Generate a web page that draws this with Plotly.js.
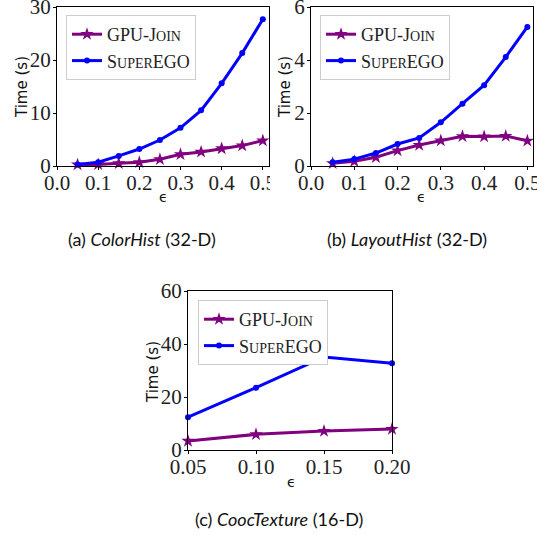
<!DOCTYPE html>
<html><head><meta charset="utf-8">
<script src="https://cdn.plot.ly/plotly-3.0.1.min.js"></script>
<style>html,body{margin:0;padding:0;background:#fff;}#chart{width:537px;height:535px;}</style>
</head><body><div id="chart"></div>
<script>
// ---- data ----
const seriesNames = ["GPU-J<span style='font-size:14px'>OIN</span>", "S<span style='font-size:14px'>UPER</span>EGO"];
const epsAB = [0.05, 0.10, 0.15, 0.20, 0.25, 0.30, 0.35, 0.40, 0.45, 0.50];
const colorHistGpu = [0.25, 0.3, 0.5, 0.7, 1.26, 2.2, 2.65, 3.3, 3.85, 4.8];
const colorHistEgo = [0.3, 0.7, 1.9, 3.2, 4.9, 7.2, 10.5, 15.6, 21.3, 27.7];
const layoutHistGpu = [0.1, 0.18, 0.33, 0.58, 0.79, 0.96, 1.12, 1.11, 1.13, 0.95];
const layoutHistEgo = [0.14, 0.26, 0.49, 0.83, 1.06, 1.65, 2.35, 3.05, 4.11, 5.25];
const epsC = [0.05, 0.10, 0.15, 0.20];
const coocGpu = [3.4, 5.9, 7.15, 7.9];
const coocEgo = [12.4, 23.5, 35.1, 32.7];
const xTicksAB = [0.0, 0.1, 0.2, 0.3, 0.4, 0.5];
const xTicksC = [0.05, 0.10, 0.15, 0.20];
const yTicksA = [0, 10, 20, 30];
const yTicksB = [0, 2, 4, 6];
const yTicksC = [0, 20, 40, 60];
const captions = ["(a) <i>ColorHist</i> (32-D)", "(b) <i>LayoutHist</i> (32-D)", "(c) <i>CoocTexture</i> (16-D)"];

// ---- styles ----
const W = 537, H = 535;
const px = v => v / W, py = v => 1 - v / H;
const purple = '#800080', blue = '#0000ff';
const serif = 'Liberation Serif';

function gpuTrace(x, y, xa, ya, lg) {
  return {x, y, xaxis: xa, yaxis: ya, legend: lg, name: seriesNames[0], type: 'scatter', mode: 'lines+markers',
    line: {color: purple, width: 3}, marker: {symbol: 'star', size: 10, color: purple}, cliponaxis: false};
}
function egoTrace(x, y, xa, ya, lg) {
  return {x, y, xaxis: xa, yaxis: ya, legend: lg, name: seriesNames[1], type: 'scatter', mode: 'lines+markers',
    line: {color: blue, width: 3}, marker: {symbol: 'circle', size: 6, color: blue}, cliponaxis: false};
}
const traces = [
  gpuTrace(epsAB, colorHistGpu, 'x', 'y', 'legend'),
  egoTrace(epsAB, colorHistEgo, 'x', 'y', 'legend'),
  gpuTrace(epsAB, layoutHistGpu, 'x2', 'y2', 'legend2'),
  egoTrace(epsAB, layoutHistEgo, 'x2', 'y2', 'legend2'),
  gpuTrace(epsC, coocGpu, 'x3', 'y3', 'legend3'),
  egoTrace(epsC, coocEgo, 'x3', 'y3', 'legend3'),
];

function ax(domain, range, tickvals, fmt, anchor, standoff) {
  return {domain, range, tickvals, ticktext: tickvals.map(fmt), tickmode: 'array', anchor,
    showline: true, mirror: true, linecolor: '#000', linewidth: 1, ticks: 'outside', ticklen: 3,
    tickcolor: '#000', showgrid: false, zeroline: false, fixedrange: true, ticklabeloverflow: 'allow',
    ticklabelstandoff: standoff,
    tickfont: {family: serif, size: 21, color: '#222'}};
}
const fx1 = v => v.toFixed(1), fx2 = v => v.toFixed(2), fi = v => String(v);

function legend(x, y) {
  return {x: px(x), y: py(y), xanchor: 'left', yanchor: 'top', bgcolor: '#fff', bordercolor: '#ccc', borderwidth: 1,
    font: {family: serif, size: 18, color: '#222'}, itemwidth: 30, tracegroupgap: 0};
}

const ann = [];
function yt(x, y) { ann.push({text: 'Time (s)', x: px(x), y: py(y), xref: 'paper', yref: 'paper', showarrow: false, textangle: -90,
  font: {family: 'DejaVu Sans', size: 15, color: '#111'}, xanchor: 'center', yanchor: 'middle'}); }
function xt(x, y) { ann.push({text: '\u03f5', x: px(x), y: py(y), xref: 'paper', yref: 'paper', showarrow: false,
  font: {family: 'DejaVu Sans', size: 14, color: '#111'}, xanchor: 'center', yanchor: 'middle'}); }
function cap(t, x, y) { ann.push({text: t, x: px(x), y: py(y), xref: 'paper', yref: 'paper', showarrow: false,
  font: {family: 'Lato', size: 18, color: '#111'}, xanchor: 'center', yanchor: 'middle'}); }
yt(22, 87); yt(285, 87); yt(153, 372);
xt(163, 197); xt(421, 197); xt(291, 482);
cap(captions[0], 142, 239); cap(captions[1], 407, 239); cap(captions[2], 279, 519);

const layout = {
  width: W, height: H, margin: {l: 0, r: 0, t: 0, b: 0}, paper_bgcolor: '#fff', plot_bgcolor: '#fff',
  font: {family: serif, size: 18, color: '#222'},
  showlegend: true,
  xaxis: ax([px(57), px(269)], [0, 0.515], xTicksAB, fx1, 'y', -5),
  yaxis: ax([py(166), py(7)], [0, 30], yTicksA, fi, 'x', -2),
  xaxis2: ax([px(311), px(533)], [0, 0.513], xTicksAB, fx1, 'y2', -5),
  yaxis2: ax([py(166), py(7)], [0, 6], yTicksB, fi, 'x2', -2),
  xaxis3: ax([px(188), px(392)], [0.05, 0.20], xTicksC, fx2, 'y3', -5),
  yaxis3: ax([py(450), py(291)], [0, 60], yTicksC, fi, 'x3', -2),
  legend: legend(66, 15), legend2: legend(320, 15), legend3: legend(198, 300),
  annotations: ann,
  shapes: [{type: 'rect', xref: 'paper', yref: 'paper', x0: px(270), x1: px(292), y0: py(192), y1: py(167),
    fillcolor: '#fff', line: {width: 0}, layer: 'above'}]
};
Plotly.newPlot('chart', traces, layout, {displayModeBar: false, staticPlot: true});
</script></body></html>
